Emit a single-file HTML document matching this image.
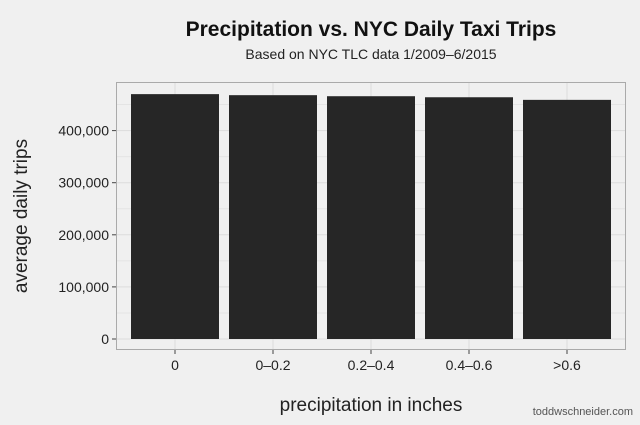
<!DOCTYPE html>
<html><head><meta charset="utf-8"><style>
body{margin:0;background:#f0f0f0;font-family:"Liberation Sans",sans-serif}
</style></head><body>
<svg width="640" height="420" xmlns="http://www.w3.org/2000/svg">
<rect width="640" height="420" fill="#f0f0f0"/>
<text x="371" y="36" text-anchor="middle" font-size="21" font-weight="bold" fill="#111">Precipitation vs. NYC Daily Taxi Trips</text>
<text x="371" y="59" text-anchor="middle" font-size="14" fill="#222">Based on NYC TLC data 1/2009–6/2015</text>
<g id="grid"></g>
<g id="bars"></g>
<rect x="116.5" y="82.5" width="509" height="267" fill="none" stroke="#aaa"/>
<g id="axes"></g>
<text x="371" y="411" text-anchor="middle" font-size="19" fill="#222">precipitation in inches</text>
<text transform="translate(27,216) rotate(-90)" text-anchor="middle" font-size="19" fill="#222">average daily trips</text>
<text x="633" y="415" text-anchor="end" font-size="11" fill="#555">toddwschneider.com</text>
</svg>
<script>
const categories=["0","0–0.2","0.2–0.4","0.4–0.6",">0.6"];
const values=[470000,468000,466000,464000,459000];
const yTicks=[0,100000,200000,300000,400000];
const yTickLabels=["0","100,000","200,000","300,000","400,000"];
const NS="http://www.w3.org/2000/svg";
const y0=339,pxPer=208.4/400000;
function y(v){return y0-v*pxPer;}
const band=98,x0=126;
function xc(i){return x0+band*(i+0.5);}
function mk(t,a,p){const e=document.createElementNS(NS,t);for(const k in a)e.setAttribute(k,a[k]);p.appendChild(e);return e;}
const grid=document.getElementById('grid'),bars=document.getElementById('bars'),axes=document.getElementById('axes');
for(let i=0;i<yTicks.length;i++){
 const yy=y(yTicks[i]);
 const g=mk('line',{x1:117,x2:625,y1:yy,y2:yy,stroke:'#dcdcdc','stroke-width':1},grid);
 
 
 if(i<yTicks.length-1){const ym=y((yTicks[i]+yTicks[i+1])/2);
 const m=mk('line',{x1:117,x2:625,y1:ym,y2:ym,stroke:'#e4e4e4','stroke-width':1},grid);
 
 }
 const tk=mk('line',{x1:112,x2:116,y1:yy,y2:yy,stroke:'#444'},axes);
 
 
 const t=mk('text',{x:109,y:yy+5,'text-anchor':'end','font-size':14,fill:'#222'},axes);
 t.textContent=yTickLabels[i];
 
 
}
{const ym=y(450000);const m=mk('line',{x1:117,x2:625,y1:ym,y2:ym,stroke:'#e4e4e4'},grid);
 
 }
categories.forEach((c,i)=>{
 const cx=xc(i);
 const g=mk('line',{x1:cx,x2:cx,y1:83,y2:349,stroke:'#dcdcdc'},grid);
 
 
 const r=mk('rect',{x:cx-44,y:y(values[i]),width:88,height:y0-y(values[i]),fill:'#262626'},bars);
 
 
 const tk=mk('line',{x1:cx,x2:cx,y1:350,y2:354,stroke:'#444'},axes);
 
 
 const t=mk('text',{x:cx,y:370,'text-anchor':'middle','font-size':14,fill:'#222'},axes);
 t.textContent=c;
 
 
});
</script>
</body></html>
